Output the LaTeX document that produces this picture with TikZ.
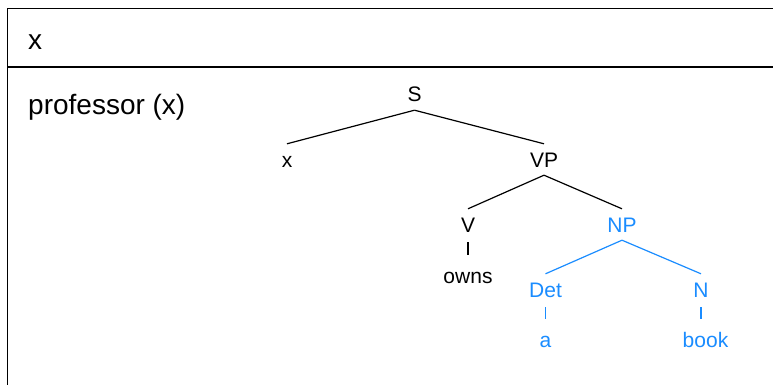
\documentclass[tikz,border=0pt]{standalone}
\usepackage{fontspec}
\setmainfont{Liberation Sans}
\definecolor{npblue}{RGB}{26,140,255}
\tikzset{
	cat/.style={font=\fontsize{21}{21}\selectfont, text height=15pt, text depth=0pt, inner xsep=0pt, inner ysep=8pt, anchor=base},
	stick/.style={line width=1.2pt, shorten <=2pt, shorten >=5pt},
	branch/.style={line width=1.2pt}
}

\begin{document}
\begin{tikzpicture}[x=1pt, y=-1pt]
			%%%%% START %%%%%
			\useasboundingbox (0, 0) rectangle (773, 385);
			\clip (0, 0) rectangle (773, 385);
			
			\draw[line width=1.8pt] (7.5, 8.5) rectangle (790, 400);
			\draw[line width=1.8pt] (7.5, 67) -- (790, 67);
			
			\node[font=\fontsize{28}{28}\selectfont, anchor=base west, inner sep=0pt] (var) at (28, 50) {x};
			\node[font=\fontsize{28}{28}\selectfont, anchor=base west, inner sep=0pt] (cond) at (28, 115) {professor (x)};
			
			\node[cat] (s) at (414.5, 102) {S};
			\node[cat] (subj) at (287, 167) {x};
			\node[cat] (vp) at (544, 167) {VP};
			\node[cat] (v) at (468, 232) {V};
			\node[cat] (owns) at (468, 283) {owns};
			
			\draw[branch] (s.south) -- (subj.north);
			\draw[branch] (s.south) -- (vp.north);
			\draw[branch] (vp.south) -- (v.north);
			\draw[stick] (v.south) -- (owns.north);
			
			\begin{scope}[npblue]
				\node[cat] (np) at (622, 232) {NP};
				\node[cat] (det) at (545.5, 297) {Det};
				\node[cat] (n) at (701, 297) {N};
				\node[cat] (a) at (545.5, 347) {a};
				\node[cat] (book) at (705.5, 347) {book};
			\end{scope}
			
			\draw[branch] (vp.south) -- (np.north);
			\draw[branch, npblue] (np.south) -- (det.north);
			\draw[branch, npblue] (np.south) -- (n.north);
			\draw[stick, npblue] (det.south) -- (a.north);
			\draw[stick, npblue] (n.south) -- (n.south |- book.north);
			
			%%%%% END %%%%%
		\end{tikzpicture}
\end{document}
